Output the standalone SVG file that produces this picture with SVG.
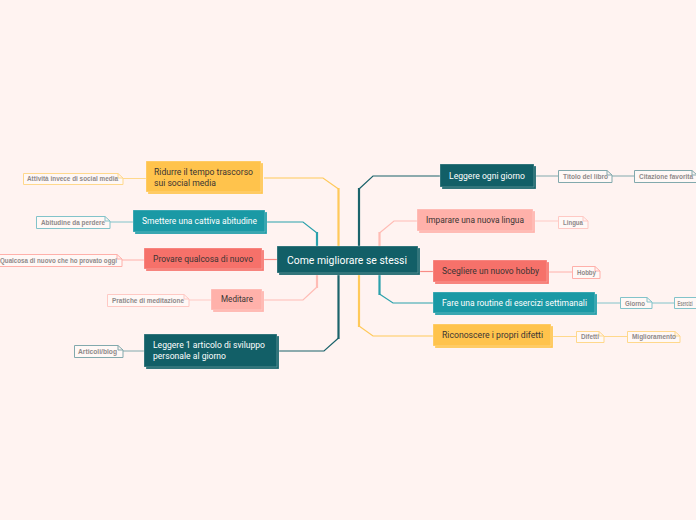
<svg xmlns="http://www.w3.org/2000/svg" width="696" height="520" viewBox="0 0 696 520">
<style>
.bg{fill:#fff3f1}
.n rect{stroke:rgba(255,255,255,0.35);stroke-width:0.8}
.y rect{fill:#ffc34c}
.t rect{fill:#1a99a5}
.d rect{fill:#125f67}
.c rect{fill:#f6716a}
.p rect{fill:#ffb1aa}
.n text{font-family:Roboto,"Liberation Sans",sans-serif;font-size:9px}
.dk{fill:#3b3433}
.wt{fill:#ffffff}
.note path{fill:#fff8f6;stroke-width:1}
.note text{font-family:"Liberation Sans",Arial,sans-serif;font-size:6.5px;font-weight:bold;fill:#8f8a8a}
.ny path{stroke:#ffd88c}
.nt path{stroke:#82c3ca}
.nc path{stroke:#ffb0aa}
.np path{stroke:#ffc9c4}
.nd path{stroke:#82a9ad}
#connectors path{fill:none}
.ly{stroke:#ffc95a}
.lt{stroke:#2ba1ac}
.ld{stroke:#1b636b}
.lc{stroke:#f88c86}
.lp{stroke:#ffbcb5}
.thin{stroke-width:1.2}
.thick{stroke-width:2.2}
.sub{stroke-width:1}
.sy{stroke:#ffd88c}
.st{stroke:#82c3ca}
.sc{stroke:#ffb0aa}
.sp{stroke:#ffc9c4}
.sd{stroke:#82a9ad}
</style>
<rect class="bg" x="0" y="0" width="696" height="520"/>

<g id="connectors">
  <path class="ly thin" d="M264,178 H323 L338.5,189"/>
  <path class="ly thick" d="M338.5,188 V248"/>
  <path class="lt thin" d="M265,222 H303 L317,233"/>
  <path class="lt thick" d="M317,232 V248"/>
  <path class="lc thin" d="M262,259.5 H278"/>
  <path class="lp thick" d="M317,272 V288"/>
  <path class="lp thin" d="M317,287 L303,300 H262"/>
  <path class="ld thick" d="M338.5,272 V339"/>
  <path class="ld thin" d="M338.5,338 L324,351 H277"/>
  <path class="ld thick" d="M359,248 V188"/>
  <path class="ld thin" d="M359,189 L373,176 H440"/>
  <path class="lp thick" d="M379.5,248 V232"/>
  <path class="lp thin" d="M379.5,233 L394,221 H417"/>
  <path class="lc thin" d="M419,271.5 H433"/>
  <path class="lt thick" d="M379.5,272 V295"/>
  <path class="lt thin" d="M379.5,294 L393,303 H433"/>
  <path class="ly thick" d="M359,272 V327"/>
  <path class="ly thin" d="M359,326 L373,336 H433"/>
  <path class="sy sub" d="M123,178.5 H146"/>
  <path class="st sub" d="M110,222 H133"/>
  <path class="sc sub" d="M122,260 H144"/>
  <path class="sp sub" d="M189,300 H211"/>
  <path class="sd sub" d="M123,351 H144"/>
  <path class="sd sub" d="M534,176 H558"/>
  <path class="sd sub" d="M612,176 H634"/>
  <path class="sp sub" d="M533,221 H558"/>
  <path class="sc sub" d="M547,272 H572"/>
  <path class="st sub" d="M595,303 H620"/>
  <path class="st sub" d="M652,303 H674"/>
  <path class="sy sub" d="M551,336.5 H576"/>
  <path class="sy sub" d="M604,336.5 H627"/>
</g>

<g id="center" class="n d">
  <rect x="279" y="248" width="141" height="27"/>
  <rect x="277" y="246" width="141" height="27"/>
  <text class="wt" x="287" y="263.5" style="font-size:11px" textLength="120" lengthAdjust="spacingAndGlyphs">Come migliorare se stessi</text>
</g>

<g id="node-ridurre" class="n y">
  <rect x="148" y="163" width="115" height="31"/>
  <rect x="146" y="161" width="115" height="31"/>
  <text class="dk" x="154" y="175" textLength="99" lengthAdjust="spacingAndGlyphs">Ridurre il tempo trascorso</text>
  <text class="dk" x="154" y="186" textLength="62" lengthAdjust="spacingAndGlyphs">sui social media</text>
</g>
<g id="node-smettere" class="n t">
  <rect x="135" y="212" width="132" height="22"/>
  <rect x="133" y="210" width="132" height="22"/>
  <text class="wt" x="142" y="224" textLength="115" lengthAdjust="spacingAndGlyphs">Smettere una cattiva abitudine</text>
</g>
<g id="node-provare" class="n c">
  <rect x="146" y="250" width="118" height="21"/>
  <rect x="144" y="248" width="118" height="21"/>
  <text class="dk" x="153" y="262" textLength="100" lengthAdjust="spacingAndGlyphs">Provare qualcosa di nuovo</text>
</g>
<g id="node-meditare" class="n p">
  <rect x="213" y="291" width="51" height="21"/>
  <rect x="211" y="289" width="51" height="21"/>
  <text class="dk" x="221" y="302" textLength="32" lengthAdjust="spacingAndGlyphs">Meditare</text>
</g>
<g id="node-leggere-articolo" class="n d">
  <rect x="146" y="336" width="133" height="33"/>
  <rect x="144" y="334" width="133" height="33"/>
  <text class="wt" x="153" y="348" textLength="112" lengthAdjust="spacingAndGlyphs">Leggere 1 articolo di sviluppo</text>
  <text class="wt" x="153" y="358.5" textLength="73" lengthAdjust="spacingAndGlyphs">personale al giorno</text>
</g>
<g id="node-leggere-ogni" class="n d">
  <rect x="442" y="166" width="94" height="23"/>
  <rect x="440" y="164" width="94" height="23"/>
  <text class="wt" x="449" y="178.5" textLength="76" lengthAdjust="spacingAndGlyphs">Leggere ogni giorno</text>
</g>
<g id="node-imparare" class="n p">
  <rect x="419" y="211" width="116" height="22"/>
  <rect x="417" y="209" width="116" height="22"/>
  <text class="dk" x="426" y="223" textLength="98" lengthAdjust="spacingAndGlyphs">Imparare una nuova lingua</text>
</g>
<g id="node-scegliere" class="n c">
  <rect x="435" y="262" width="114" height="22"/>
  <rect x="433" y="260" width="114" height="22"/>
  <text class="dk" x="442" y="274" textLength="97" lengthAdjust="spacingAndGlyphs">Scegliere un nuovo hobby</text>
</g>
<g id="node-fare" class="n t">
  <rect x="435" y="294" width="162" height="21"/>
  <rect x="433" y="292" width="162" height="21"/>
  <text class="wt" x="442" y="305.5" textLength="145" lengthAdjust="spacingAndGlyphs">Fare una routine di esercizi settimanali</text>
</g>
<g id="node-riconoscere" class="n y">
  <rect x="435" y="326" width="118" height="22"/>
  <rect x="433" y="324" width="118" height="22"/>
  <text class="dk" x="442" y="337.5" textLength="101" lengthAdjust="spacingAndGlyphs">Riconoscere i propri difetti</text>
</g>

<g id="note-attivita" class="note ny">
  <path d="M23.5,173.5 H118 L123,178 V184.5 H23.5 Z M118,173.5 V178 H123"/>
  <text x="27" y="180.5" textLength="91" lengthAdjust="spacingAndGlyphs">Attività invece di social media</text>
</g>
<g id="note-abitudine" class="note nt">
  <path d="M36.5,216.5 H105 L110,221 V228.5 H36.5 Z M105,216.5 V221 H110"/>
  <text x="41" y="224.5" textLength="64" lengthAdjust="spacingAndGlyphs">Abitudine da perdere</text>
</g>
<g id="note-qualcosa" class="note nc">
  <path d="M-3,254.5 H117 L122,259 V266.5 H-3 Z M117,254.5 V259 H122"/>
  <text x="0" y="262.5" textLength="117" lengthAdjust="spacingAndGlyphs">Qualcosa di nuovo che ho provato oggi</text>
</g>
<g id="note-pratiche" class="note np">
  <path d="M107.5,294.5 H184 L189,299 V306.5 H107.5 Z M184,294.5 V299 H189"/>
  <text x="112" y="302.5" textLength="72" lengthAdjust="spacingAndGlyphs">Pratiche di meditazione</text>
</g>
<g id="note-articoli" class="note nd">
  <path d="M74.5,345.5 H118 L123,350 V357.5 H74.5 Z M118,345.5 V350 H123"/>
  <text x="78" y="353.5" textLength="39" lengthAdjust="spacingAndGlyphs">Articoli/blog</text>
</g>
<g id="note-titolo" class="note nd">
  <path d="M558.5,170.5 H607 L612,175 V182.5 H558.5 Z M607,170.5 V175 H612"/>
  <text x="563" y="178.5" textLength="45" lengthAdjust="spacingAndGlyphs">Titolo del libro</text>
</g>
<g id="note-citazione" class="note nd">
  <path d="M634.5,170.5 H692 L697,175 V182.5 H634.5 Z M692,170.5 V175 H697"/>
  <text x="639" y="178.5" textLength="54" lengthAdjust="spacingAndGlyphs">Citazione favorita</text>
</g>
<g id="note-lingua" class="note np">
  <path d="M558.5,216.5 H583 L588,221 V228.5 H558.5 Z M583,216.5 V221 H588"/>
  <text x="563" y="224.5" textLength="20" lengthAdjust="spacingAndGlyphs">Lingua</text>
</g>
<g id="note-hobby" class="note nc">
  <path d="M572.5,266.5 H595 L600,271 V278.5 H572.5 Z M595,266.5 V271 H600"/>
  <text x="577" y="274.5" textLength="19" lengthAdjust="spacingAndGlyphs">Hobby</text>
</g>
<g id="note-giorno" class="note nt">
  <path d="M620.5,297.5 H647 L652,302 V308.5 H620.5 Z M647,297.5 V302 H652"/>
  <text x="625" y="305.5" textLength="20" lengthAdjust="spacingAndGlyphs">Giorno</text>
</g>
<g id="note-esercizi" class="note nt">
  <path d="M674.5,297.5 H708 L713,302 V308.5 H674.5 Z M708,297.5 V302 H713"/>
  <text x="0" y="0" transform="translate(677.5,305.5) scale(0.62,1)">Esercizi</text>
</g>
<g id="note-difetti" class="note ny">
  <path d="M576.5,331.5 H599 L604,336 V342.5 H576.5 Z M599,331.5 V336 H604"/>
  <text x="581" y="339" textLength="18" lengthAdjust="spacingAndGlyphs">Difetti</text>
</g>
<g id="note-miglioramento" class="note ny">
  <path d="M627.5,331.5 H675 L680,336 V342.5 H627.5 Z M675,331.5 V336 H680"/>
  <text x="632" y="339" textLength="44" lengthAdjust="spacingAndGlyphs">Miglioramento</text>
</g>
</svg>
